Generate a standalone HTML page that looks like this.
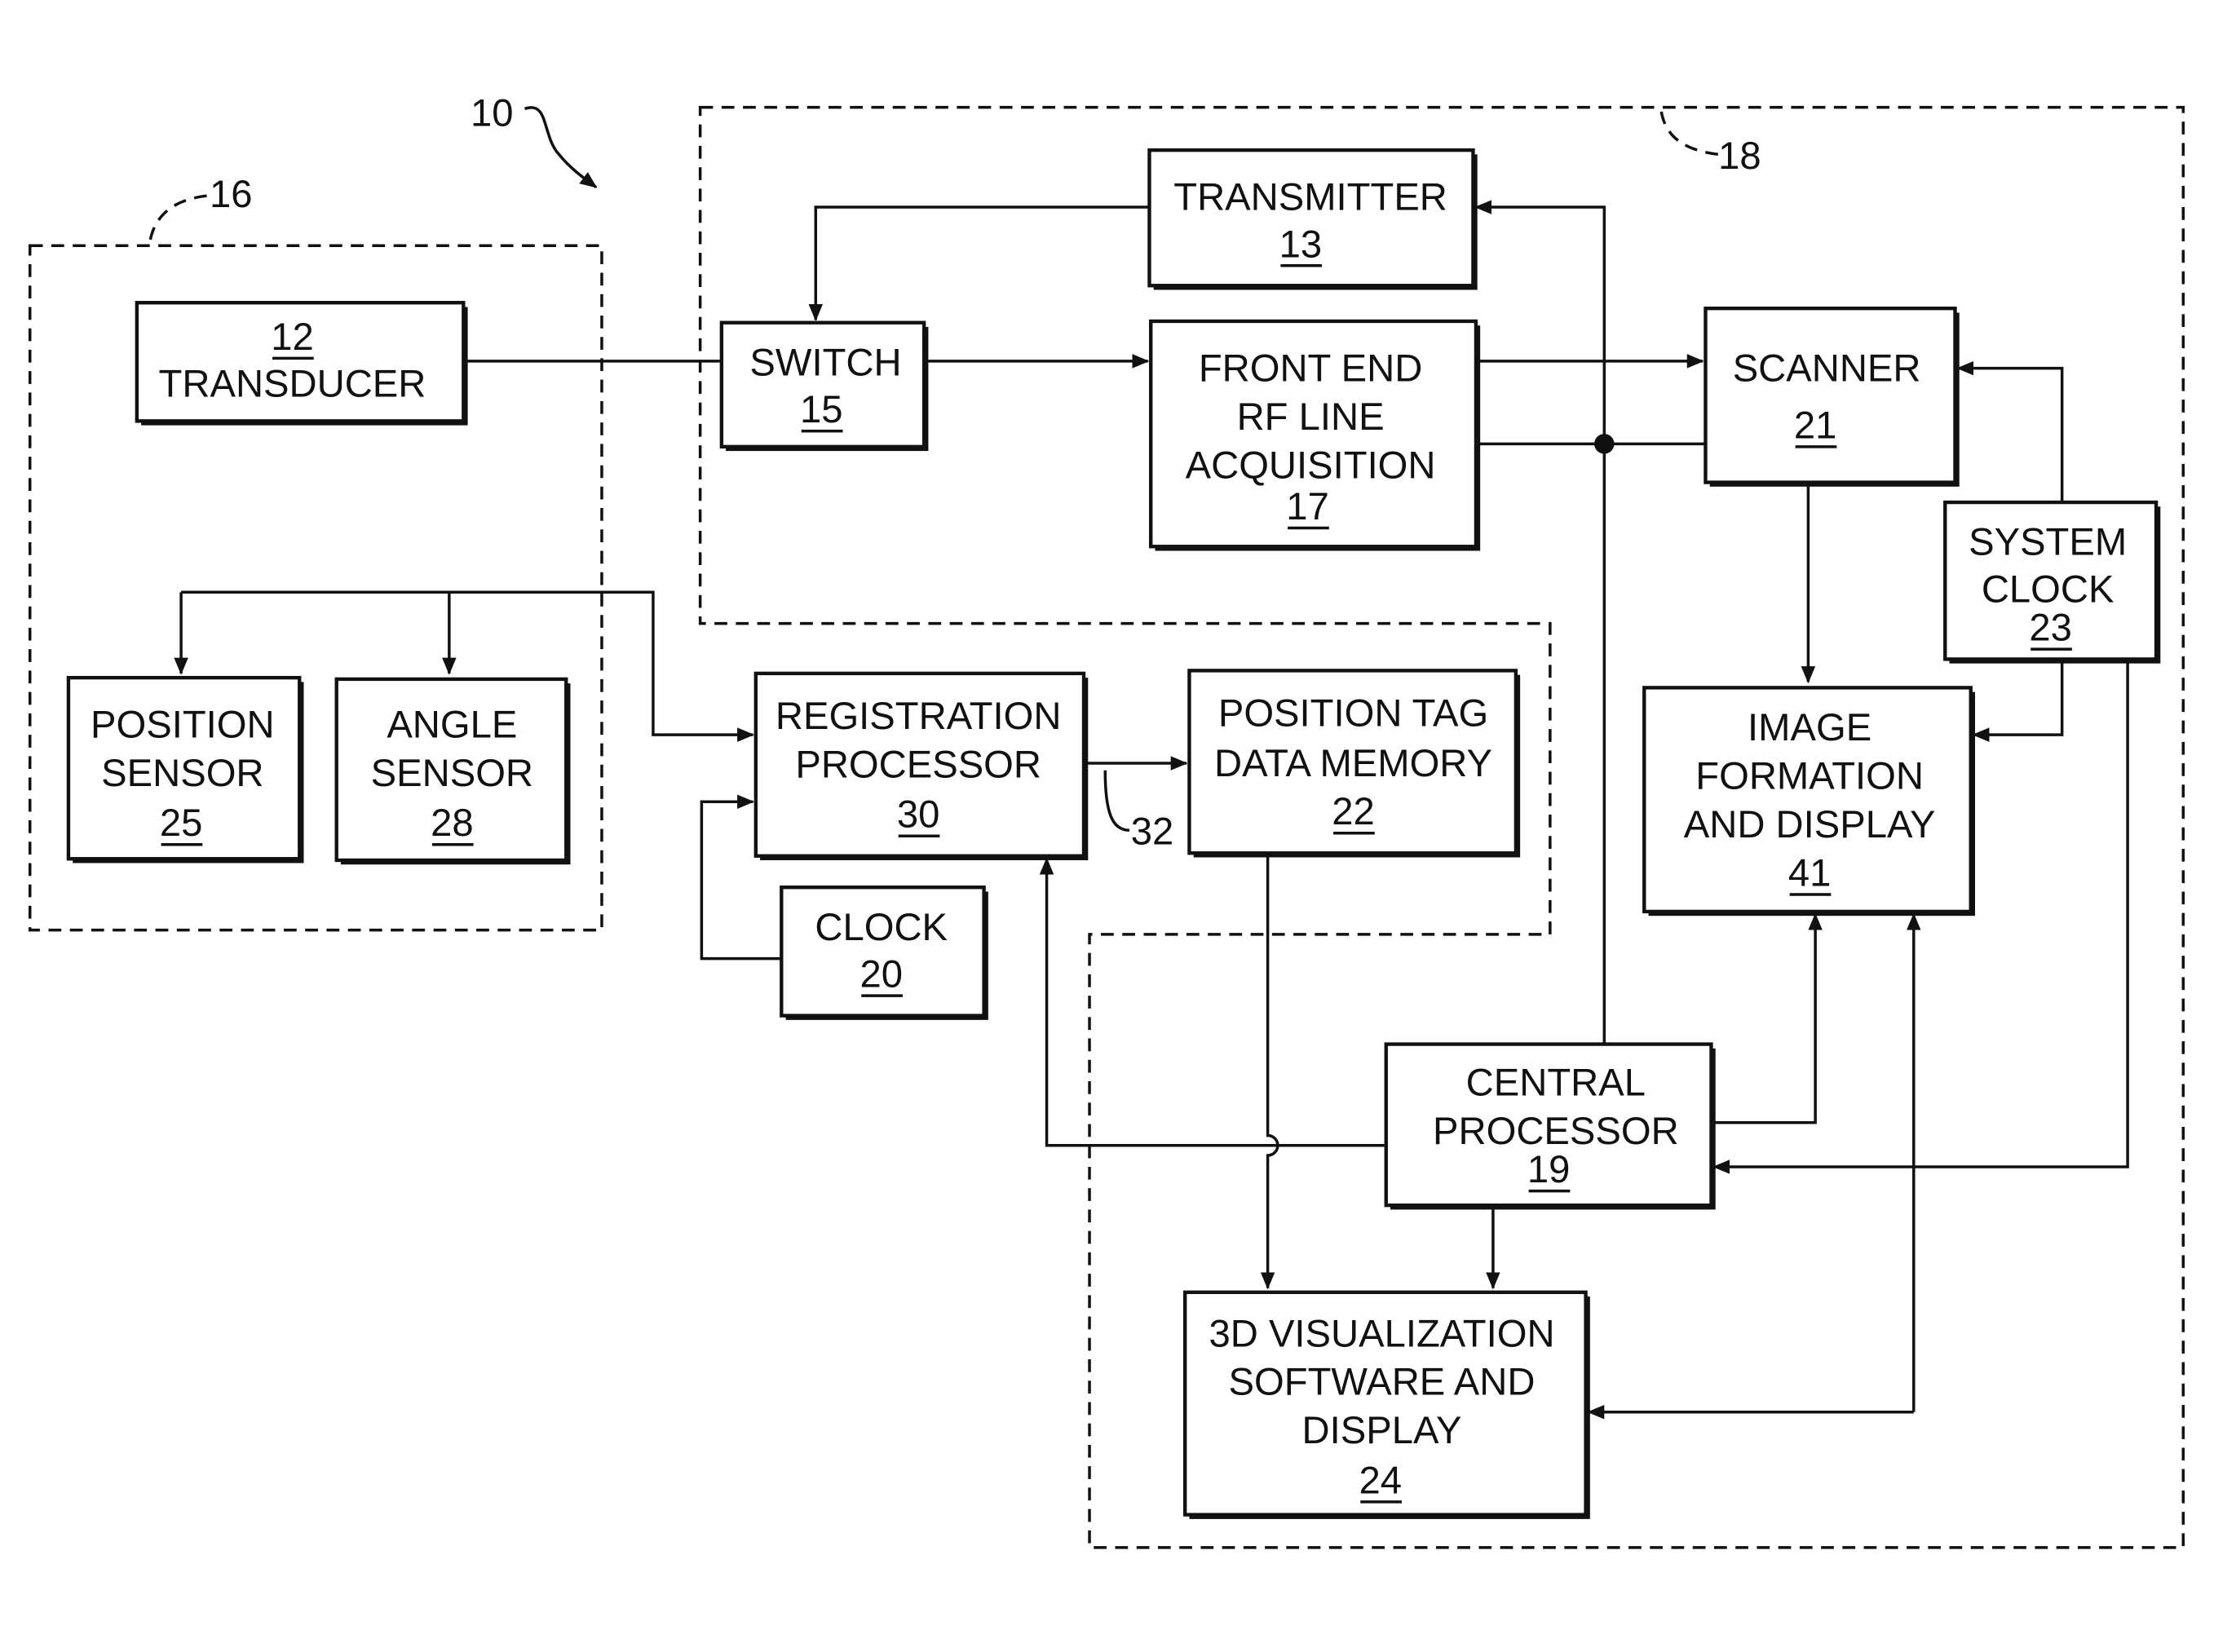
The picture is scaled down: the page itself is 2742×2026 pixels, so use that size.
<!DOCTYPE html>
<html><head><meta charset="utf-8"><style>
html,body{margin:0;padding:0;background:#fff;}
svg{display:block;}
text{font-family:"Liberation Sans",sans-serif;font-size:27px;fill:#111;text-anchor:middle;}
.b{stroke:#111;stroke-width:2.5;}
.l{fill:none;stroke:#111;stroke-width:2;}
.d{fill:none;stroke:#111;stroke-width:2;stroke-dasharray:9 6;}
.u{stroke:#111;stroke-width:2;}
</style></head><body>
<svg width="2742" height="2026" viewBox="0 0 1568 1158" xmlns="http://www.w3.org/2000/svg">
<defs><marker id="a" markerWidth="12" markerHeight="10" refX="11" refY="5" orient="auto" markerUnits="userSpaceOnUse"><path d="M0,0 L12,5 L0,10 Z" fill="#111"/></marker></defs>

<rect class="d" x="21" y="172" width="401" height="480"/>
<path class="d" d="M491,75 H1531 V1085 H764 V655 H1087 V437 H491 Z"/>

<g>
<rect style="fill:#111" x="809" y="108" width="227" height="95"/><rect class="b" style="fill:#fff" x="806" y="105" width="227" height="95"/>
<rect style="fill:#111" x="509" y="229" width="142" height="87"/><rect class="b" style="fill:#fff" x="506" y="226" width="142" height="87"/>
<rect style="fill:#111" x="810" y="228" width="228" height="158"/><rect class="b" style="fill:#fff" x="807" y="225" width="228" height="158"/>
<rect style="fill:#111" x="99" y="215" width="229" height="83"/><rect class="b" style="fill:#fff" x="96" y="212" width="229" height="83"/>
<rect style="fill:#111" x="1199" y="219" width="175" height="122"/><rect class="b" style="fill:#fff" x="1196" y="216" width="175" height="122"/>
<rect style="fill:#111" x="1367" y="355" width="148" height="110"/><rect class="b" style="fill:#fff" x="1364" y="352" width="148" height="110"/>
<rect style="fill:#111" x="1156" y="485" width="229" height="157"/><rect class="b" style="fill:#fff" x="1153" y="482" width="229" height="157"/>
<rect style="fill:#111" x="51" y="478" width="162" height="127"/><rect class="b" style="fill:#fff" x="48" y="475" width="162" height="127"/>
<rect style="fill:#111" x="239" y="479" width="161" height="127"/><rect class="b" style="fill:#fff" x="236" y="476" width="161" height="127"/>
<rect style="fill:#111" x="533" y="475" width="230" height="128"/><rect class="b" style="fill:#fff" x="530" y="472" width="230" height="128"/>
<rect style="fill:#111" x="837" y="473" width="229" height="128"/><rect class="b" style="fill:#fff" x="834" y="470" width="229" height="128"/>
<rect style="fill:#111" x="551" y="625" width="142" height="90"/><rect class="b" style="fill:#fff" x="548" y="622" width="142" height="90"/>
<rect style="fill:#111" x="975" y="735" width="228" height="113"/><rect class="b" style="fill:#fff" x="972" y="732" width="228" height="113"/>
<rect style="fill:#111" x="834" y="909" width="281" height="156"/><rect class="b" style="fill:#fff" x="831" y="906" width="281" height="156"/>
</g>

<path class="l" d="M325,253 H506"/>
<path class="l" d="M806,145 H572 V224" marker-end="url(#a)"/>
<path class="l" d="M648,253 H805" marker-end="url(#a)"/>
<path class="l" d="M1035,253 H1194" marker-end="url(#a)"/>
<path class="l" d="M1035,311 H1196"/>
<circle cx="1125" cy="311" r="7" fill="#111"/>
<path class="l" d="M1125,732 V145 H1035" marker-end="url(#a)"/>
<path class="l" d="M1268,338 V478" marker-end="url(#a)"/>
<path class="l" d="M1446,352 V258 H1373" marker-end="url(#a)"/>
<path class="l" d="M1446,462 V515 H1384" marker-end="url(#a)"/>
<path class="l" d="M1492,462 V818 H1202" marker-end="url(#a)"/>
<path class="l" d="M1200,787 H1273 V641" marker-end="url(#a)"/>
<path class="l" d="M1342,990 V641" marker-end="url(#a)"/>
<path class="l" d="M1342,990 H1114" marker-end="url(#a)"/>
<path class="l" d="M1047,845 V903" marker-end="url(#a)"/>
<path class="l" d="M889,598 V796 A7,7 0 0 1 889,810 V903" marker-end="url(#a)"/>
<path class="l" d="M972,803 H734 V602" marker-end="url(#a)"/>
<path class="l" d="M760,535 H832" marker-end="url(#a)"/>
<path class="l" d="M775,540 C775,570 780,582 792,582"/>
<path class="l" d="M548,672 H492 V562 H528" marker-end="url(#a)"/>
<path class="l" d="M127,415 V472" marker-end="url(#a)"/>
<path class="l" d="M315,415 V472" marker-end="url(#a)"/>
<path class="l" d="M127,415 H458 V515 H528" marker-end="url(#a)"/>

<text x="345" y="88">10</text>
<path class="l" d="M368,76 C385,70 380,95 392,108 C400,118 410,125 418,131" marker-end="url(#a)"/>
<text x="162" y="145">16</text>
<path class="d" d="M145,137 C120,140 108,152 105,170"/>
<text x="1220" y="118">18</text>
<path class="d" d="M1165,78 C1168,95 1180,105 1205,108"/>
<text x="808" y="592">32</text>

<text x="919" y="147">TRANSMITTER</text><text x="912" y="180">13</text><line class="u" x1="898" y1="186" x2="927" y2="186"/>
<text x="579" y="263">SWITCH</text><text x="576" y="296">15</text><line class="u" x1="562" y1="302" x2="591" y2="302"/>
<text x="919" y="267">FRONT END</text><text x="919" y="301">RF LINE</text><text x="919" y="335">ACQUISITION</text><text x="917" y="364">17</text><line class="u" x1="903" y1="370" x2="932" y2="370"/>
<text x="205" y="245">12</text><line class="u" x1="191" y1="251" x2="220" y2="251"/><text x="205" y="278">TRANSDUCER</text>
<text x="1281" y="267">SCANNER</text><text x="1273" y="307">21</text><line class="u" x1="1259" y1="313" x2="1288" y2="313"/>
<text x="1436" y="389">SYSTEM</text><text x="1436" y="422">CLOCK</text><text x="1438" y="449">23</text><line class="u" x1="1424" y1="455" x2="1453" y2="455"/>
<text x="1269" y="519">IMAGE</text><text x="1269" y="553">FORMATION</text><text x="1269" y="587">AND DISPLAY</text><text x="1269" y="621">41</text><line class="u" x1="1255" y1="627" x2="1284" y2="627"/>
<text x="128" y="517">POSITION</text><text x="128" y="551">SENSOR</text><text x="127" y="586">25</text><line class="u" x1="113" y1="592" x2="142" y2="592"/>
<text x="317" y="517">ANGLE</text><text x="317" y="551">SENSOR</text><text x="317" y="586">28</text><line class="u" x1="303" y1="592" x2="332" y2="592"/>
<text x="644" y="511">REGISTRATION</text><text x="644" y="545">PROCESSOR</text><text x="644" y="580">30</text><line class="u" x1="630" y1="586" x2="659" y2="586"/>
<text x="949" y="509">POSITION TAG</text><text x="949" y="544">DATA MEMORY</text><text x="949" y="578">22</text><line class="u" x1="935" y1="584" x2="964" y2="584"/>
<text x="618" y="659">CLOCK</text><text x="618" y="692">20</text><line class="u" x1="604" y1="698" x2="633" y2="698"/>
<text x="1091" y="768">CENTRAL</text><text x="1091" y="802">PROCESSOR</text><text x="1086" y="829">19</text><line class="u" x1="1072" y1="835" x2="1101" y2="835"/>
<text x="969" y="944">3D VISUALIZATION</text><text x="969" y="978">SOFTWARE AND</text><text x="969" y="1012">DISPLAY</text><text x="968" y="1047">24</text><line class="u" x1="954" y1="1053" x2="983" y2="1053"/>
</svg>
</body></html>
